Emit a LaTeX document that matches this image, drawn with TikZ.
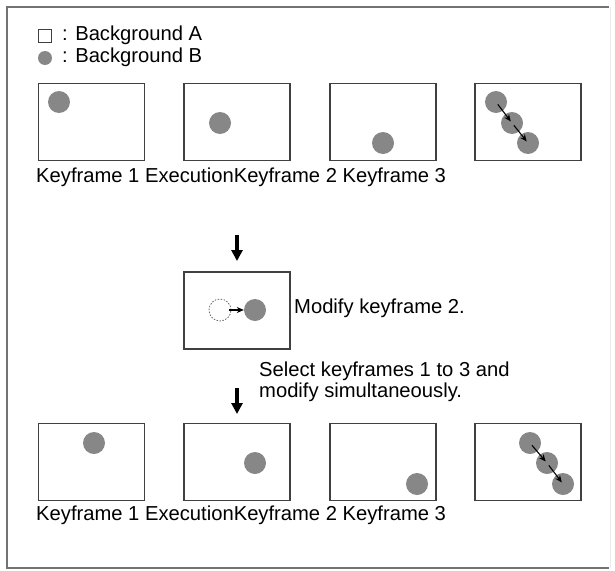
\documentclass[tikz,border=0pt]{standalone}
\usepackage{fontspec}
\setmainfont{Liberation Sans}
\usetikzlibrary{arrows.meta}
\tikzset{
  kframe/.style={draw=black!75, line width=1.5pt, minimum width=106pt, minimum height=77pt, inner sep=0pt},
  ball/.style={circle, fill=black!47, minimum size=22pt, inner sep=0pt},
  ghost/.style={circle, draw=black!60, line width=0.8pt, dash pattern=on 1.5pt off 1.5pt, minimum size=22pt, inner sep=0pt},
  txt/.style={anchor=west, inner sep=0pt, align=left},
  move/.style={-{Stealth[length=7pt,width=6pt]}, line width=1.1pt, shorten <=3pt, shorten >=2pt},
  down/.style={-{Triangle[length=11pt,width=11pt]}, line width=3.5pt},
}
\begin{document}
\begin{tikzpicture}[x=1pt, y=-1pt, font=\fontsize{20.2}{21}\selectfont]
	\useasboundingbox (0,0) rectangle (615,570);
	% outer border
	\draw[black!55, line width=1.5pt] (609,7) -- (7,7) -- (7,568) -- (609,568);
	\draw[black!8, line width=1pt] (610,7) -- (610,568);

	% legend
	\node[draw=black!75, line width=0.9pt, minimum size=13pt, inner sep=0pt] (keyA) at (45,36) {};
	\node[txt] (txtA) at (62,35) {: Background A};
	\node[ball, minimum size=14pt] (keyB) at (45,58) {};
	\node[txt] (txtB) at (62,57) {: Background B};

	% top row
	\node[kframe] (t1) at (91.5,122) {};
	\node[kframe] (t2) at (237,122) {};
	\node[kframe] (t3) at (383,122) {};
	\node[kframe] (t4) at (528,122) {};
	\node[ball] (t1b) at (59,102) {};
	\node[ball] (t2b) at (220,123) {};
	\node[ball] (t3b) at (383,143) {};
	\node[ball] (t4a) at (496,102) {};
	\node[ball] (t4b) at (512,123) {};
	\node[ball] (t4c) at (528,143) {};
	\draw[move] (t4a.center) -- (t4b.center);
	\draw[move] (t4b.center) -- (t4c.center);
	\node[txt] (topcap) at (36,177) {Keyframe 1 ExecutionKeyframe 2 Keyframe 3};

	% modify keyframe 2
	\coordinate (a1s) at (237,235);
	\coordinate (a1e) at (237,261);
	\draw[down] (a1s) -- (a1e);
	\node[kframe] (m) at (237,310.5) {};
	\node[ghost] (mold) at (220,310) {};
	\node[ball] (mnew) at (255,310) {};
	\draw[move, shorten <=-2pt, shorten >=0pt] (mold) -- (mnew);
	\node[txt] (mtxt) at (294,308) {Modify keyframe 2.};

	% select 1 to 3
	\node[txt] (seltxt) at (259,382) {Select keyframes 1 to 3 and\\modify simultaneously.};
	\coordinate (a2s) at (237,388);
	\coordinate (a2e) at (237,414);
	\draw[down] (a2s) -- (a2e);

	% bottom row
	\node[kframe] (b1) at (91.5,462) {};
	\node[kframe] (b2) at (237,462) {};
	\node[kframe] (b3) at (383,462) {};
	\node[kframe] (b4) at (528,462) {};
	\node[ball] (b1b) at (94,443) {};
	\node[ball] (b2b) at (255,463) {};
	\node[ball] (b3b) at (417,484) {};
	\node[ball] (b4a) at (530,443) {};
	\node[ball] (b4b) at (547,463) {};
	\node[ball] (b4c) at (563,484) {};
	\draw[move] (b4a.center) -- (b4b.center);
	\draw[move] (b4b.center) -- (b4c.center);
	\node[txt] (botcap) at (36,515) {Keyframe 1 ExecutionKeyframe 2 Keyframe 3};
\end{tikzpicture}
\end{document}
